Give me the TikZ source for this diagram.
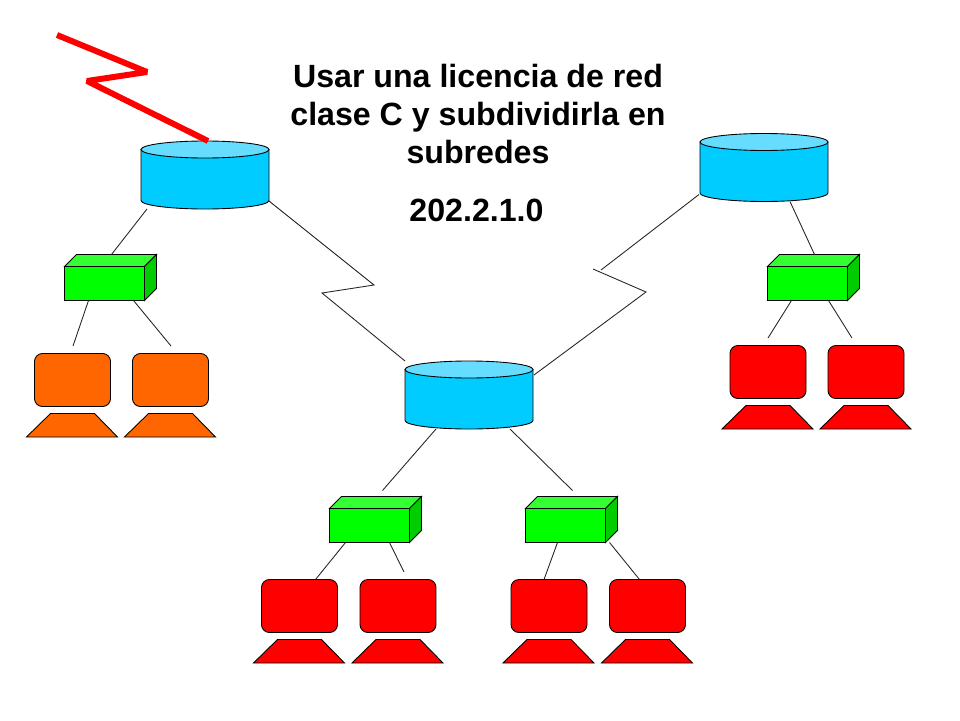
\documentclass[tikz,border=0pt]{standalone}
\usepackage{fontspec}
\setmainfont{Liberation Sans}
\definecolor{routerblue}{HTML}{00CCFF}
\definecolor{routertop}{HTML}{66DDFF}
\definecolor{switchtop}{HTML}{33FF33}
\definecolor{switchside}{HTML}{00CC00}
\definecolor{pcorange}{HTML}{FF6600}
\tikzset{
  router/.style={minimum width=2.56cm, minimum height=1.36cm, inner sep=0pt, outer sep=0pt},
  routerpart/.style={draw=black, line width=0.5pt},
  switchfront/.style={draw=black, line width=0.5pt, fill=green, minimum width=1.6cm, minimum height=0.68cm, inner sep=0pt, outer sep=0pt},
  screen/.style={draw=black, line width=0.5pt, rounded corners=4.5pt, minimum width=1.52cm, minimum height=1.06cm, inner sep=0pt, outer sep=0pt},
  stand/.style={draw=black, line width=0.5pt},
  wire/.style={line width=0.5pt, black!85},
  bolt/.style={line width=3.4pt, red, miter limit=3},
  titletext/.style={font=\fontsize{18.3}{21.6}\selectfont\bfseries, align=center, inner sep=0pt}
}
% router disk: name, centre
\newcommand{\routerdisk}[2]{
  \node[router] (#1) at (#2) {};
  \draw[routerpart, fill=routerblue] ([shift={(-64,-25.5)}]#1.center) -- ++(0,51)
    arc[start angle=180, end angle=0, x radius=64, y radius=8.5] -- ++(0,-51) -- cycle;
  \draw[routerpart, fill=routertop] ([shift={(0,-25.5)}]#1.center) ellipse[x radius=64, y radius=8.5];
}
% switch box: name, centre of the front face
\newcommand{\switchbox}[2]{
  \node[switchfront] (#1) at (#2) {};
  \draw[line width=0.5pt, fill=switchtop] (#1.north west) -- ++(12,-12) -- ++(80,0) -- (#1.north east) -- cycle;
  \draw[line width=0.5pt, fill=switchside] (#1.north east) -- ++(12,-12) -- ++(0,34) -- (#1.south east) -- cycle;
}
% computer: name, centre of the screen, colour
\newcommand{\computer}[3]{
  \node[screen, fill=#3] (#1) at (#2) {};
  \draw[stand, fill=#3] ([shift={(-22,7)}]#1.south) -- ++(44,0) -- ++(23,23.5) -- ++(-91,0) -- cycle;
}
\begin{document}
\begin{tikzpicture}[x=0.02cm, y=-0.02cm]
  \useasboundingbox (0,0) rectangle (960,720);
  \node[titletext] (title) at (478,114) {Usar una licencia de red\\clase C y subdividirla en\\subredes};
  \node[titletext] (addr) at (476.5,210) {202.2.1.0};
  % routers
  \routerdisk{ra}{205,175}
  \routerdisk{rb}{764,167.5}
  \routerdisk{rc}{469,395}
  % switches
  \switchbox{sa}{104.5,283.5}
  \switchbox{sb}{807.5,283.5}
  \switchbox{sc}{369.5,525.5}
  \switchbox{sd}{565.5,525.5}
  % computers
  \computer{pa}{72.5,380}{pcorange}
  \computer{pb}{170.5,380}{pcorange}
  \computer{pc}{768,372}{red}
  \computer{pd}{866,372}{red}
  \computer{pe}{299.5,606}{red}
  \computer{pf}{398,606}{red}
  \computer{pg}{549,606}{red}
  \computer{ph}{647.5,606}{red}
  % free ends of the wires
  \coordinate (fa) at (73,346);
  \coordinate (fb) at (171,346);
  \coordinate (fc) at (768,338);
  \coordinate (fd) at (852,338);
  \coordinate (fe) at (404,572);
  % bends
  \coordinate (ka) at (374,285);
  \coordinate (kb) at (322,293);
  \coordinate (kc) at (601,270);
  \coordinate (kd) at (593,269);
  \coordinate (ke) at (646,292);
  \coordinate (la) at (57,35);
  \coordinate (lb) at (147,72);
  \coordinate (lc) at (87,81);
  % wires
  \draw[wire] ([shift={(-58,34)}]ra.center) -- ([shift={(7,-12)}]sa.north);
  \draw[wire] ([shift={(-16,0)}]sa.south) -- (fa);
  \draw[wire] ([shift={(29,0)}]sa.south) -- (fb);
  \draw[wire] ([shift={(64,26)}]ra.center) -- (ka) -- (kb) -- ([shift={(-64,-34)}]rc.center);
  \draw[wire] ([shift={(-65,27)}]rb.center) -- (kc);
  \draw[wire] (kd) -- (ke) -- ([shift={(65,-20)}]rc.center);
  \draw[wire] ([shift={(26,34)}]rb.center) -- ([shift={(7,-12)}]sb.north);
  \draw[wire] ([shift={(-16,0)}]sb.south) -- (fc);
  \draw[wire] ([shift={(21,0)}]sb.south) -- (fd);
  \draw[wire] ([shift={(-33,34)}]rc.center) -- ([shift={(13,-18)}]sc.north);
  \draw[wire] ([shift={(41,34)}]rc.center) -- ([shift={(7,-18)}]sd.north);
  \draw[wire] ([shift={(-24,0)}]sc.south) -- ([shift={(16,0)}]pe.north);
  \draw[wire] ([shift={(20,0)}]sc.south) -- (fe);
  \draw[wire] ([shift={(-8,0)}]sd.south) -- ([shift={(-5,0)}]pg.north);
  \draw[wire] ([shift={(44,0)}]sd.south) -- ([shift={(-8,0)}]ph.north);
  % radio link
  \draw[bolt] (la) -- (lb) -- (lc) -- ([shift={(3,0)}]ra.north);
\end{tikzpicture}
\end{document}
